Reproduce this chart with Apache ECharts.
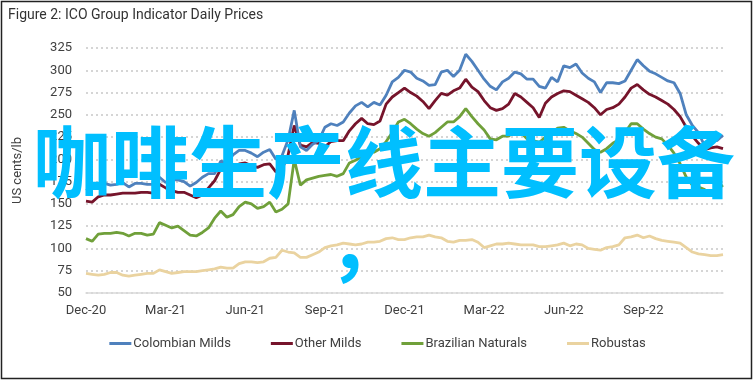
<!DOCTYPE html>
<html>
<head>
<meta charset="utf-8">
<script src="https://cdn.jsdelivr.net/npm/echarts@6/dist/echarts.min.js"></script>
<style>
html,body{margin:0;padding:0;background:#fff;}
#c{width:755px;height:382px;}
</style>
</head>
<body>
<div id="c"></div>
<script>
// Weekly sample dates (Dec 2020 - Nov 2022)
const weeks = [
'2020-12-01','2020-12-08','2020-12-15','2020-12-22','2020-12-29',
'2021-01-05','2021-01-12','2021-01-19','2021-01-26',
'2021-02-02','2021-02-09','2021-02-16','2021-02-23',
'2021-03-02','2021-03-09','2021-03-16','2021-03-23','2021-03-30',
'2021-04-06','2021-04-13','2021-04-20','2021-04-27',
'2021-05-04','2021-05-11','2021-05-18','2021-05-25',
'2021-06-01','2021-06-08','2021-06-15','2021-06-22','2021-06-29',
'2021-07-06','2021-07-13','2021-07-20','2021-07-27',
'2021-08-03','2021-08-10','2021-08-17','2021-08-24','2021-08-31',
'2021-09-07','2021-09-14','2021-09-21','2021-09-28',
'2021-10-05','2021-10-12','2021-10-19','2021-10-26',
'2021-11-02','2021-11-09','2021-11-16','2021-11-23','2021-11-30',
'2021-12-07','2021-12-14','2021-12-21','2021-12-28',
'2022-01-04','2022-01-11','2022-01-18','2022-01-25',
'2022-02-01','2022-02-08','2022-02-15','2022-02-22',
'2022-03-01','2022-03-08','2022-03-15','2022-03-22','2022-03-29',
'2022-04-05','2022-04-12','2022-04-19','2022-04-26',
'2022-05-03','2022-05-10','2022-05-17','2022-05-24','2022-05-31',
'2022-06-07','2022-06-14','2022-06-21','2022-06-28',
'2022-07-05','2022-07-12','2022-07-19','2022-07-26',
'2022-08-02','2022-08-09','2022-08-16','2022-08-23','2022-08-30',
'2022-09-06','2022-09-13','2022-09-20','2022-09-27',
'2022-10-04','2022-10-11','2022-10-18','2022-10-25',
'2022-11-01','2022-11-08','2022-11-15','2022-11-22','2022-11-29'
];
const tickLabels = ['Dec-20','Mar-21','Jun-21','Sep-21','Dec-21','Mar-22','Jun-22','Sep-22'];

const colombianMilds = [
165,168,171,173,171,172,174,169,173,173,
172,172,180,174,177,177,175,170,174,180,
184,184,198,196,205,210,210,207,203,208,
211,200,204,222,255,214,210,217,221,236,
240,238,242,252,260,264,259,264,261,272,
287,292,300,298,291,288,283,284,298,300,
293,300,318,310,300,290,282,278,287,291,
298,296,290,290,282,280,292,287,305,303,
307,297,291,287,275,286,286,285,288,300,
312,305,299,296,292,288,286,274,250,238,
230,215,221,221,227];
const otherMilds = [
153,152,158,160,160,161,162,162,162,163,
163,162,172,168,165,163,163,160,157,160,
168,176,189,189,187,195,196,193,191,194,
195,186,189,205,238,216,214,219,218,214,
220,221,221,232,240,246,240,239,243,262,
270,275,280,275,271,265,257,266,274,272,
277,280,290,281,276,266,258,255,257,262,
274,270,264,258,247,263,270,274,277,276,
272,268,264,258,250,256,258,262,270,280,
284,278,273,270,266,262,256,248,236,226,
218,211,213,214,212];
const brazilianNaturals = [
111,108,116,117,117,118,117,114,117,117,
115,116,129,126,123,125,120,115,114,118,
123,134,142,135,138,147,152,150,145,147,
152,141,144,150,200,171,177,179,181,182,
183,181,184,196,199,203,210,208,212,220,
230,242,245,240,234,229,226,230,236,242,
242,248,257,248,240,233,223,222,226,226,
233,230,223,221,219,225,230,235,236,232,
229,225,218,211,208,212,218,222,230,240,
240,234,229,225,223,216,207,195,180,171,
169,166,162,166,171];
const robustas = [
72,71,70,71,73,73,70,69,70,71,
72,72,76,74,72,73,74,74,74,75,
76,77,79,78,78,83,85,85,84,85,
89,90,98,96,95,90,90,93,96,101,
103,104,106,105,104,105,107,107,108,111,
112,110,110,112,113,113,115,113,112,108,
107,109,109,110,107,101,103,105,105,106,
105,104,104,104,102,102,103,104,106,103,
105,104,100,99,98,101,102,104,112,113,
115,112,114,111,109,108,107,106,101,96,
94,93,92,92,93];

const FONT = "'Liberation Sans Narrow', 'Roboto', sans-serif";
const chart = echarts.init(document.getElementById('c'), null, {renderer: 'canvas'});

function line(name, data, color, z) {
  return {
    name: name, type: 'line', data: data, showSymbol: false, symbol: 'none',
    lineStyle: {color: color, width: 2.8}, itemStyle: {color: color}, z: z,
    animation: false
  };
}

chart.setOption({
  animation: false,
  backgroundColor: '#fff',
  grid: {left: 86, right: 32, top: 48, bottom: 89},
  legend: {
    bottom: 27, left: 'center', itemGap: 40, itemWidth: 22, itemHeight: 3,
    icon: 'rect',
    textStyle: {fontFamily: FONT, fontSize: 13, color: '#404040', padding: [0,0,0,-3]},
    data: ['Colombian Milds','Other Milds','Brazilian Naturals','Robustas']
  },
  xAxis: {
    type: 'category', data: weeks, boundaryGap: false,
    axisLine: {lineStyle: {color: '#d9d9d9', width: 1.5}},
    axisTick: {show: false},
    axisLabel: {
      fontFamily: FONT, fontSize: 13, color: '#404040', margin: 11,
      interval: function (i) { return i % 13 === 0 && i < 104; },
      formatter: function (v, i) { return tickLabels[i / 13] || ''; }
    },
    splitLine: {show: false}
  },
  yAxis: {
    type: 'value', min: 50, max: 325, interval: 25,
    name: 'US cents/lb', nameLocation: 'middle', nameGap: 62,
    nameTextStyle: {fontFamily: FONT, fontSize: 13, color: '#404040'},
    axisLine: {show: false}, axisTick: {show: false},
    axisLabel: {fontFamily: FONT, fontSize: 13, color: '#404040', margin: 14},
    splitLine: {lineStyle: {color: '#c8c8c8', width: 1.5, type: [2, 3]}}
  },
  series: [
    line('Colombian Milds', colombianMilds, '#4F81BD', 5),
    line('Other Milds', otherMilds, '#76142B', 4),
    line('Brazilian Naturals', brazilianNaturals, '#70A03A', 3),
    line('Robustas', robustas, '#EAD3A0', 2)
  ],
  graphic: [
    {type: 'rect', shape: {x: 1.5, y: 1.5, width: 750, height: 377},
     style: {fill: 'none', stroke: '#222', lineWidth: 1.5}, z: 100, silent: true},
    {type: 'text', left: 8, top: 8,
     style: {text: 'Figure 2: ICO Group Indicator Daily Prices', font: '14px ' + FONT, fill: '#333'}, z: 100},
    {type: 'text', x: 384, y: 162,
     style: {text: '咖啡生产线主要设备', font: 'bold 78px "Noto Sans CJK SC"', fill: '#00BFFF',
             textAlign: 'center', textVerticalAlign: 'middle'}, z: 200},
    {type: 'text', x: 367, y: 243,
     style: {text: '，', font: 'bold 78px "Noto Sans CJK SC"', fill: '#00BFFF',
             textAlign: 'center', textVerticalAlign: 'middle'}, z: 200}
  ]
});
</script>
</body>
</html>
